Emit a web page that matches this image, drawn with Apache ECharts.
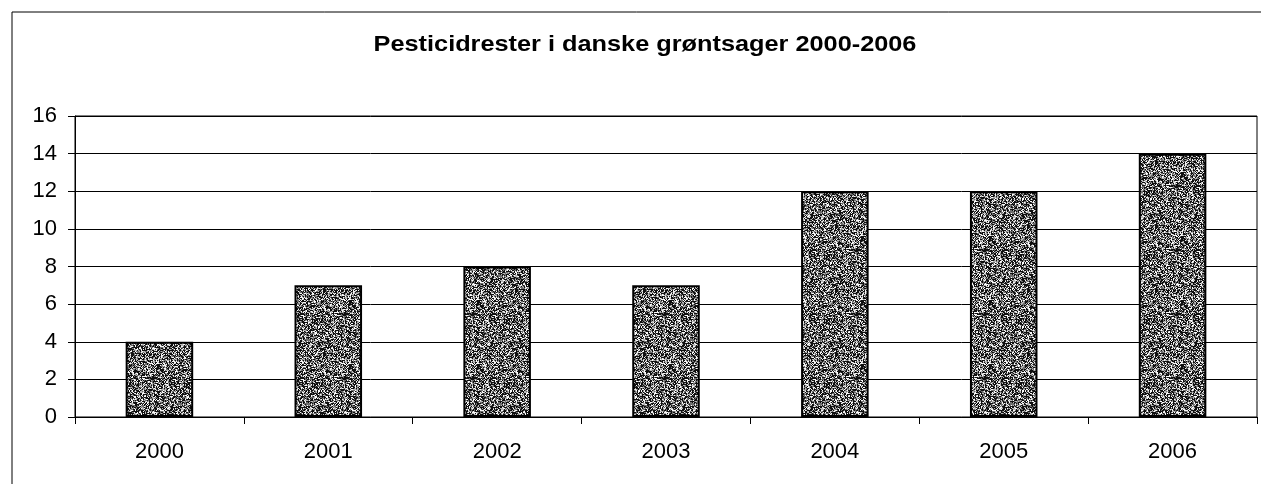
<!DOCTYPE html>
<html>
<head>
<meta charset="utf-8">
<script src="https://cdn.jsdelivr.net/npm/echarts@6/dist/echarts.min.js"></script>
<style>
html,body{margin:0;padding:0;background:#fff;}
#chart{width:1261px;height:484px;}
</style>
</head>
<body>
<div id="chart"></div>
<script>
const titleText = 'Pesticidrester i danske grøntsager 2000-2006';
const years = ['2000', '2001', '2002', '2003', '2004', '2005', '2006'];
const values = [4, 7, 8, 7, 12, 12, 14];
const yTicks = [0, 2, 4, 6, 8, 10, 12, 14, 16];

// stipple texture for bars (deterministic hash, styling only)
function makeStipple() {
  const N = 64;
  const c = document.createElement('canvas');
  c.width = N; c.height = N;
  const ctx = c.getContext('2d');
  const img = ctx.createImageData(N, N);
  for (let y = 0; y < N; y++) {
    for (let x = 0; x < N; x++) {
      let h = Math.imul(x + 1, 0x9E3779B1) ^ Math.imul(y + 7, 0x85EBCA77);
      h ^= h >>> 15; h = Math.imul(h, 0x2C1B3C6D);
      h ^= h >>> 12; h = Math.imul(h, 0x297A2D39);
      h ^= h >>> 15;
      h = (h >>> 0) & 255;
      let v;
      if (h < 110) v = 15;
      else if (h < 165) v = 110;
      else if (h < 210) v = 185;
      else v = 250;
      const i = (y * N + x) * 4;
      img.data[i] = v; img.data[i + 1] = v; img.data[i + 2] = v; img.data[i + 3] = 255;
    }
  }
  ctx.putImageData(img, 0, 0);
  return c;
}

const chart = echarts.init(document.getElementById('chart'), null, {renderer: 'canvas'});
chart.setOption({
  animation: false,
  backgroundColor: '#fff',
  grid: {
    left: 75, right: 4, top: 116, bottom: 67,
    show: true, borderColor: '#000', borderWidth: 1, backgroundColor: 'transparent'
  },
  xAxis: {
    type: 'category',
    data: years,
    boundaryGap: true,
    axisLine: {show: true, lineStyle: {color: '#000', width: 1}},
    axisTick: {show: true, length: 7, inside: false, alignWithLabel: false, lineStyle: {color: '#000'}},
    axisLabel: {margin: 24, fontFamily: 'Liberation Sans', fontSize: 22, color: '#000'},
    splitLine: {show: false}
  },
  yAxis: {
    type: 'value',
    min: 0, max: 16, interval: 2,
    axisLine: {show: true, lineStyle: {color: '#000', width: 1}},
    axisTick: {show: true, length: 7, inside: false, lineStyle: {color: '#000'}},
    axisLabel: {
      margin: 18, fontFamily: 'Liberation Sans', fontSize: 22, color: '#000',
      formatter: v => yTicks.includes(v) ? String(v) : ''
    },
    splitLine: {show: true, lineStyle: {color: '#000', width: 1}}
  },
  series: [{
    type: 'bar',
    data: values,
    barWidth: '40%',
    itemStyle: {
      color: {image: makeStipple(), repeat: 'repeat'},
      borderColor: '#000',
      borderWidth: 2
    }
  }],
  graphic: [
    {type: 'line', shape: {x1: 12, y1: 12, x2: 1261, y2: 12}, style: {stroke: '#000', lineWidth: 1}, silent: true},
    {type: 'line', shape: {x1: 12, y1: 12, x2: 12, y2: 484}, style: {stroke: '#000', lineWidth: 1}, silent: true},
    {
      type: 'text', x: 645, y: 45, scaleX: 1.15, silent: true,
      style: {
        text: titleText, fill: '#000',
        font: 'bold 22px "Liberation Sans"',
        textAlign: 'center', textVerticalAlign: 'middle'
      }
    }
  ]
});
</script>
</body>
</html>
